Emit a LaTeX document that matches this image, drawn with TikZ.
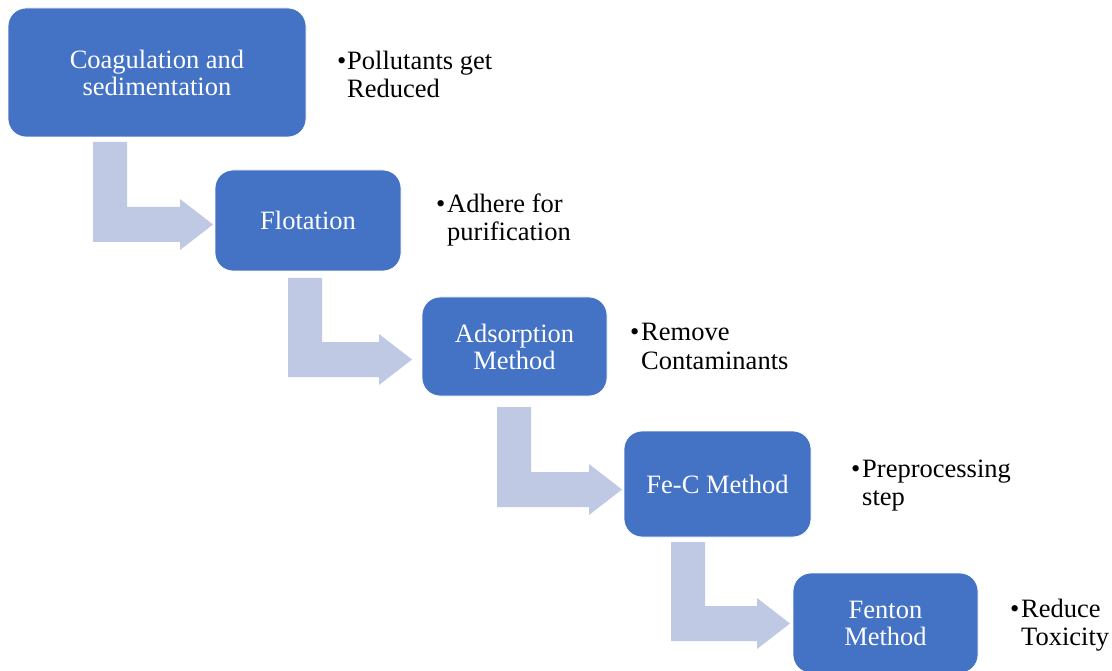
\documentclass[tikz,border=0pt]{standalone}
\usepackage{fontspec}
\setmainfont{Liberation Serif}
\definecolor{boxblue}{HTML}{4472C4}
\definecolor{arrowblue}{HTML}{BFC9E4}
\begin{document}
\begin{tikzpicture}[x=1pt,y=-1pt,
  box/.style={fill=boxblue, draw=white, line width=0.8pt, rounded corners=18pt,
    text=white, align=center, inner sep=0pt, font=\fontsize{26.5}{27}\selectfont},
  bul/.style={anchor=base west, inner sep=0pt, font=\fontsize{26.5}{28}\selectfont},
  arr/.style={fill=arrowblue, draw=none}]
\useasboundingbox (0,0) rectangle (1112,671);
\fill[white] (0,0) rectangle (1112,671);
% bent arrows: #1 stem left x, #2 top y, #3 bar bottom y, #4 tip x
\newcommand\bendarrow[4]{%
  \fill[arr] (#1,#2) -- (#1+34,#2) -- (#1+34,#3-35) -- (#4-33,#3-35) -- (#4-33,#3-43)
    -- (#4,#3-17.5) -- (#4-33,#3+8) -- (#4-33,#3) -- (#1,#3) -- cycle;}
\bendarrow{93}{142}{242}{213}
\bendarrow{288}{278}{377}{412}
\bendarrow{497}{407}{507}{622}
\bendarrow{671}{542}{641}{790}
% boxes
\node[box, minimum width=298pt, minimum height=129pt] (b1) at (157,72.5) {Coagulation and\\sedimentation};
\node[box, minimum width=186pt, minimum height=101pt] (b2) at (308,220.5) {Flotation};
\node[box, minimum width=185pt, minimum height=99pt] (b3) at (514.5,346.5) {Adsorption\\Method};
\node[box, minimum width=187pt, minimum height=106pt] (b4) at (717.5,484) {Fe-C Method};
\node[box, minimum width=185pt, minimum height=100pt] (b5) at (885.5,623) {Fenton\\Method};
% bullet texts
\node[bul] (d1) at (337,70) {\textbullet};
\node[bul] (t1a) at (347,70) {Pollutants get};
\node[bul] (t1b) at (347,98) {Reduced};
\node[bul] (d2) at (436,213) {\textbullet};
\node[bul] (t2a) at (447,213) {Adhere for};
\node[bul] (t2b) at (447,241) {purification};
\node[bul] (d3) at (630,341) {\textbullet};
\node[bul] (t3a) at (641,341) {Remove};
\node[bul] (t3b) at (641,369) {Contaminants};
\node[bul] (d4) at (851,477) {\textbullet};
\node[bul] (t4a) at (862,477) {Preprocessing};
\node[bul] (t4b) at (862,505) {step};
\node[bul] (d5) at (1010,617) {\textbullet};
\node[bul] (t5a) at (1021,617) {Reduce};
\node[bul] (t5b) at (1021,645) {Toxicity};
\end{tikzpicture}
\end{document}
